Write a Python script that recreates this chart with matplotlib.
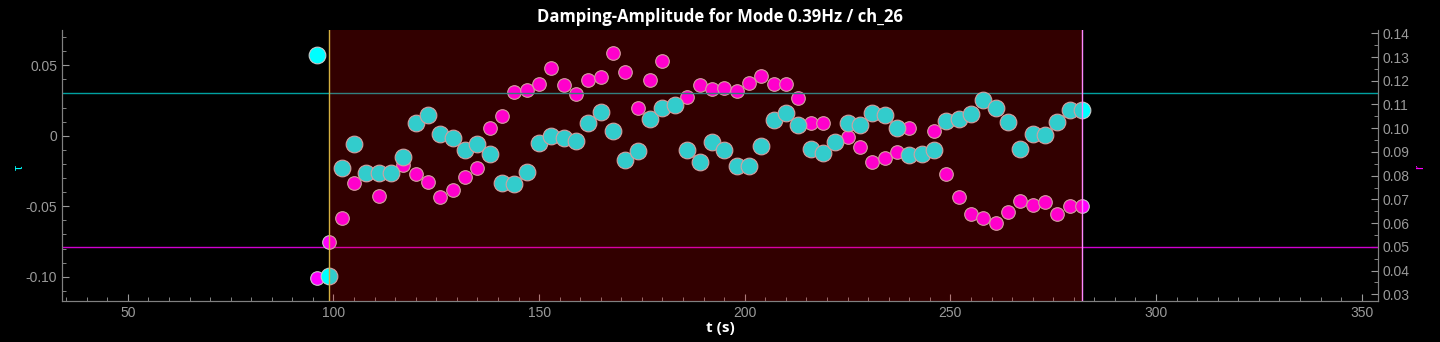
import matplotlib
matplotlib.use("Agg")
import matplotlib.pyplot as plt
from matplotlib.ticker import MultipleLocator, FuncFormatter

# time stamps (s) of each estimate
t = [96, 99, 102, 105, 108, 111, 114, 117, 120, 123, 126, 129, 132, 135, 138,
     141, 144, 147, 150, 153, 156, 159, 162, 165, 168, 171, 174, 177, 180, 183,
     186, 189, 192, 195, 198, 201, 204, 207, 210, 213, 216, 219, 222, 225, 228,
     231, 234, 237, 240, 243, 246, 249, 252, 255, 258, 261, 264, 267, 270, 273,
     276, 279, 282]

# damping (left axis)
tau = [0.0574, -0.0995, -0.0231, -0.0061, -0.0267, -0.0267, -0.0267, -0.0149,
       0.0088, 0.0147, 0.0012, -0.0018, -0.0101, -0.0059, -0.0132, -0.0333,
       -0.0343, -0.0255, -0.0054, 0.0000, -0.0014, -0.0038, 0.0088, 0.0166,
       0.0035, -0.0175, -0.0109, 0.0121, 0.0194, 0.0216, -0.0101, -0.0187,
       -0.0043, -0.0104, -0.0213, -0.0217, -0.0073, 0.0111, 0.0163, 0.0078,
       -0.0094, -0.0123, -0.0047, 0.0092, 0.0078, 0.0163, 0.0147, 0.0052,
       -0.0137, -0.0132, -0.0101, 0.0106, 0.0121, 0.0154, 0.0253, 0.0196,
       0.0097, -0.0097, 0.0012, 0.0007, 0.0097, 0.0182, 0.0182]

# amplitude (right axis)
amp = [0.0369, 0.0522, 0.0620, 0.0768, 0.0805, 0.0716, 0.0810, 0.0845,
       0.0806, 0.0775, 0.0711, 0.0740, 0.0796, 0.0834, 0.1000, 0.1051,
       0.1153, 0.1160, 0.1187, 0.1252, 0.1182, 0.1144, 0.1202, 0.1214,
       0.1316, 0.1236, 0.1086, 0.1202, 0.1284, 0.1097, 0.1131, 0.1182,
       0.1166, 0.1169, 0.1155, 0.1192, 0.1220, 0.1187, 0.1185, 0.1127,
       0.1023, 0.1023, 0.0942, 0.0964, 0.0919, 0.0859, 0.0873, 0.0900,
       0.1002, 0.0890, 0.0988, 0.0808, 0.0710, 0.0640, 0.0622, 0.0600,
       0.0648, 0.0692, 0.0675, 0.0688, 0.0638, 0.0673, 0.0673]

tau_limit = 0.03
amp_limit = 0.05
win_start, win_end = 99, 282

plt.rcParams['font.family'] = ['Liberation Sans Narrow', 'Liberation Sans', 'DejaVu Sans']
grey = '#9a9a9a'

fig = plt.figure(figsize=(14.4, 3.42), dpi=100, facecolor='black')
ax_r = fig.add_axes([0.0431, 0.1208, 0.9139, 0.7915])
ax = ax_r.twinx()
ax.set_zorder(ax_r.get_zorder() + 1)
ax.patch.set_visible(False)
ax_r.set_facecolor('black')

# amplitude on the right axis (drawn underneath)
ax_r.plot(t, amp, ls='none', marker='o', ms=9.8, mfc='#ff00ff', mec='#c8c8c8', mew=0.8, zorder=3)
ax_r.axhline(amp_limit, color='#d000d0', lw=1, zorder=2)

# damping on the left axis (on top)
ax.plot(t, tau, ls='none', marker='o', ms=12, mfc='#00ffff', mec='#c8c8c8', mew=0.8, zorder=3)
ax.axhline(tau_limit, color='#00a0a0', lw=1, zorder=2)

# analysis window overlay
ax.axvspan(win_start, win_end, color='red', alpha=0.2, lw=0, zorder=5)
ax.axvline(win_start, color='#d4b040', lw=1, zorder=6)
ax.axvline(win_end, color='#ff88ff', lw=1, zorder=6)

ax.set_xlim(34, 354)
ax_r.set_xlim(34, 354)

# the twin was created from ax_r, so swap sides: ax shows left, ax_r shows right
ax.yaxis.tick_left()
ax_r.yaxis.tick_right()

ax.set_ylim(-0.117, 0.075)
ax_r.set_ylim(0.0273, 0.1414)

ax.yaxis.set_major_locator(MultipleLocator(0.05))
ax.yaxis.set_minor_locator(MultipleLocator(0.01))
ax.yaxis.set_major_formatter(FuncFormatter(lambda v, p: '0' if abs(v) < 1e-9 else f'{v:.2f}'))
ax_r.yaxis.set_major_locator(MultipleLocator(0.01))
ax_r.yaxis.set_minor_locator(MultipleLocator(0.005))
ax_r.yaxis.set_major_formatter(FuncFormatter(lambda v, p: f'{v:.2f}'))
ax_r.xaxis.set_major_locator(MultipleLocator(50))
ax_r.xaxis.set_minor_locator(MultipleLocator(5))

for a in (ax, ax_r):
    a.tick_params(which='both', direction='in', colors=grey, labelsize=10)
    a.tick_params(which='major', length=5)
    a.tick_params(which='minor', length=3)
    for side in ('left', 'right', 'bottom'):
        a.spines[side].set_color('#808080')
    a.spines['top'].set_visible(False)
ax.tick_params(axis='x', which='both', bottom=False, labelbottom=False)

# axis labels placed in figure coordinates so they stay on the canvas
fig.text(20 / 1440, 1 - 167 / 342, 'τ', color='#00ffff', fontsize=9, rotation=90,
         ha='center', va='center')
fig.text(1420 / 1440, 1 - 167 / 342, 'r', color='#ff00ff', fontsize=9, rotation=90,
         ha='center', va='center')
fig.text(0.5, 1 - 328 / 342, 't (s)', color='white', fontsize=11, fontweight='bold',
         family=['Open Sans', 'DejaVu Sans'], ha='center', va='center')
ax_r.set_title('Damping-Amplitude for Mode 0.39Hz / ch_26', color='white', fontsize=12,
               fontweight='bold', family=['Open Sans', 'DejaVu Sans'], pad=6)

fig.savefig('out.png', dpi=100, facecolor='black')
